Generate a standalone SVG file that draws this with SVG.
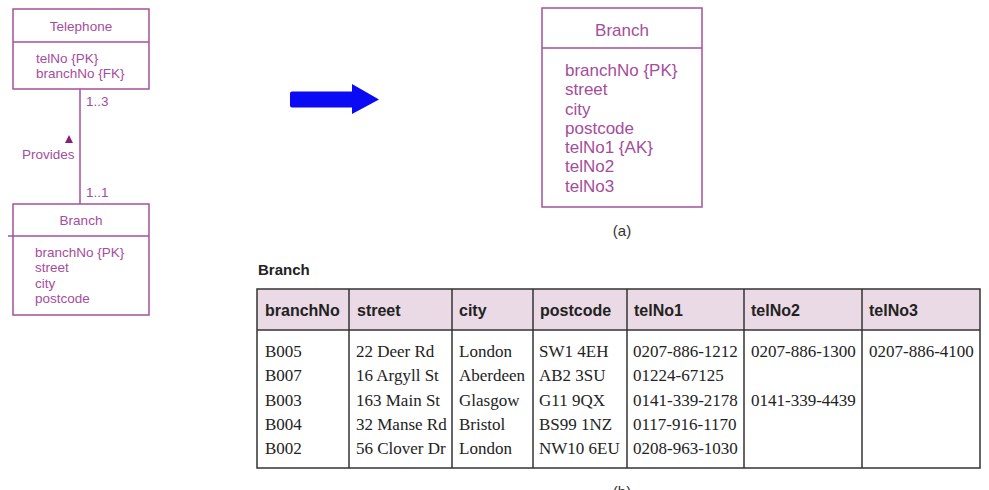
<svg xmlns="http://www.w3.org/2000/svg" width="989" height="490" viewBox="0 0 989 490">
<style>
.uml{fill:#fff;stroke:#a5509b;stroke-width:1.5}
.ln{stroke:#a5509b;stroke-width:1.5;fill:none}
.ut{font-family:"Liberation Sans",Arial,sans-serif;fill:#a54d9c}
.s{font-size:13.5px}
.b{font-size:17px}
.cap{font-family:"Liberation Sans",Arial,sans-serif;font-size:15px;fill:#333}
.hd{font-family:"Liberation Sans",Arial,sans-serif;font-size:16px;font-weight:bold;fill:#222}
.td{font-family:"Liberation Serif","Times New Roman",serif;font-size:17px;fill:#222}
.tl{stroke:#333;stroke-width:1.5;fill:none}
</style>
<g id="telephone">
<rect class="uml" x="13" y="9" width="136" height="80"/>
<line class="ln" x1="13" y1="42" x2="149" y2="42"/>
<text class="ut s" x="81" y="31" text-anchor="middle">Telephone</text>
<text class="ut s" x="36" y="63">telNo {PK}</text>
<text class="ut s" x="36" y="78">branchNo {FK}</text>
</g>
<g id="branch-small">
<rect class="uml" x="13" y="204" width="136" height="111"/>
<line class="ln" x1="8" y1="236" x2="149" y2="236"/>
<text class="ut s" x="81" y="225" text-anchor="middle">Branch</text>
<text class="ut s" x="35" y="257">branchNo {PK}</text>
<text class="ut s" x="35" y="272">street</text>
<text class="ut s" x="35" y="288">city</text>
<text class="ut s" x="35" y="303">postcode</text>
</g>
<g id="connectors">
<line class="ln" x1="80" y1="89" x2="80" y2="204"/>
<text class="ut s" x="86" y="106">1..3</text>
<polygon points="69,135 65,143 73,143" fill="#8a1f7a"/>
<text class="ut s" x="22" y="159">Provides</text>
<text class="ut s" x="86" y="197">1..1</text>
<path d="M292,91.5 H352 V84 L379,99.5 L352,114 V107.5 H292 Q290,107.5 290,105.5 V93.5 Q290,91.5 292,91.5 Z" fill="#0a0af5"/>
</g>
<g id="branch-large">
<rect class="uml" x="542" y="8" width="160" height="199"/>
<line class="ln" x1="542" y1="48" x2="702" y2="48"/>
<text class="ut b" x="622" y="36" text-anchor="middle">Branch</text>
<text class="ut b" x="565" y="76">branchNo {PK}</text>
<text class="ut b" x="565" y="95">street</text>
<text class="ut b" x="565" y="115">city</text>
<text class="ut b" x="565" y="134">postcode</text>
<text class="ut b" x="565" y="153">telNo1 {AK}</text>
<text class="ut b" x="565" y="172">telNo2</text>
<text class="ut b" x="565" y="192">telNo3</text>
</g>
<text class="cap" x="622" y="236" text-anchor="middle">(a)</text>
<g id="table">
<text x="258" y="275" font-family="Liberation Sans,Arial,sans-serif" font-size="15" font-weight="bold" fill="#222">Branch</text>
<rect x="257" y="289" width="723" height="41" fill="#eadae5"/>
<rect class="tl" x="257" y="289" width="723" height="179" stroke-width="2"/>
<line class="tl" x1="257" y1="330" x2="980" y2="330" stroke-width="2"/>
<line class="tl" x1="349" y1="289" x2="349" y2="468"/>
<line class="tl" x1="452" y1="289" x2="452" y2="468"/>
<line class="tl" x1="533" y1="289" x2="533" y2="468"/>
<line class="tl" x1="627" y1="289" x2="627" y2="468"/>
<line class="tl" x1="744" y1="289" x2="744" y2="468"/>
<line class="tl" x1="862" y1="289" x2="862" y2="468"/>
<text class="hd" x="265" y="316">branchNo</text>
<text class="hd" x="357" y="316">street</text>
<text class="hd" x="459" y="316">city</text>
<text class="hd" x="540" y="316">postcode</text>
<text class="hd" x="634" y="316">telNo1</text>
<text class="hd" x="751" y="316">telNo2</text>
<text class="hd" x="869" y="316">telNo3</text>
<g class="td">
<text x="265" y="357">B005</text><text x="356" y="357">22 Deer Rd</text><text x="459" y="357">London</text><text x="539" y="357">SW1 4EH</text><text x="633" y="357">0207-886-1212</text><text x="751" y="357">0207-886-1300</text><text x="869" y="357">0207-886-4100</text>
<text x="265" y="381">B007</text><text x="356" y="381">16 Argyll St</text><text x="459" y="381">Aberdeen</text><text x="539" y="381">AB2 3SU</text><text x="633" y="381">01224-67125</text>
<text x="265" y="405.5">B003</text><text x="356" y="405.5">163 Main St</text><text x="459" y="405.5">Glasgow</text><text x="539" y="405.5">G11 9QX</text><text x="633" y="405.5">0141-339-2178</text><text x="751" y="405.5">0141-339-4439</text>
<text x="265" y="430">B004</text><text x="356" y="430">32 Manse Rd</text><text x="459" y="430">Bristol</text><text x="539" y="430">BS99 1NZ</text><text x="633" y="430">0117-916-1170</text>
<text x="265" y="454">B002</text><text x="356" y="454">56 Clover Dr</text><text x="459" y="454">London</text><text x="539" y="454">NW10 6EU</text><text x="633" y="454">0208-963-1030</text>
</g>
</g>
<text class="cap" x="622" y="497" text-anchor="middle">(b)</text>
</svg>
